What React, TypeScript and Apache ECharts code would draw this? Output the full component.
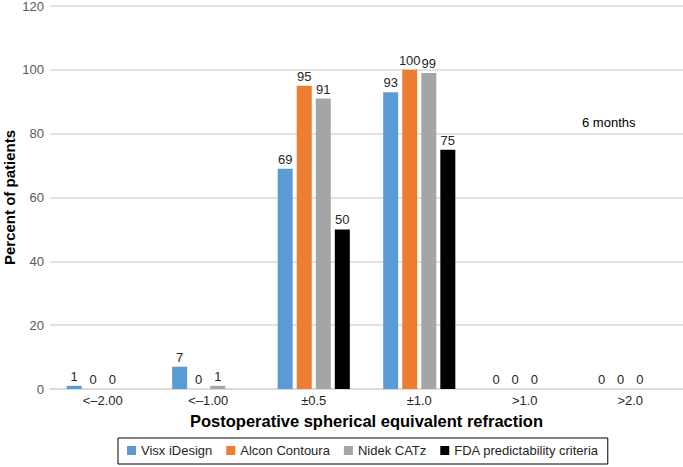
import React, { useEffect, useRef } from "react";
import * as echarts from "echarts";

const categories = ["<–2.00", "<–1.00", "±0.5", "±1.0", ">1.0", ">2.0"];
const visx = [1, 7, 69, 93, 0, 0];
const alcon = [0, 0, 95, 100, 0, 0];
const nidek = [0, 1, 91, 99, 0, 0];
const fda = [null, null, 50, 75, null, null];
const seriesNames = ["Visx iDesign", "Alcon Contoura", "Nidek CATz", "FDA predictability criteria"];
const seriesColors = ["#5B9BD5", "#ED7D31", "#A5A5A5", "#000000"];
const yTicks = { min: 0, max: 120, interval: 20 };

const FONT = "'Liberation Sans', Arial, sans-serif";

export default function App() {
  const ref = useRef<HTMLDivElement>(null);
  useEffect(() => {
    if (!ref.current) return;
    const chart = echarts.init(ref.current, undefined, { renderer: "svg" });
    const datasets = [visx, alcon, nidek, fda];
    chart.setOption({
      animation: false,
      textStyle: { fontFamily: FONT },
      grid: { left: 50, right: 0, top: 6, bottom: 78, outerBoundsMode: "none", containLabel: false },
      legend: {
        data: seriesNames,
        left: 118,
        top: 438,
        padding: [6, 9, 7, 9],
        borderColor: "#000",
        borderWidth: 1,
        itemWidth: 9,
        itemHeight: 9,
        itemGap: 14,
        icon: "rect",
        textStyle: { fontSize: 13, color: "#262626", fontFamily: FONT },
      },
      xAxis: {
        type: "category",
        data: categories,
        name: "Postoperative spherical equivalent refraction",
        nameLocation: "middle",
        nameGap: 23,
        nameMoveOverlap: false,
        nameTextStyle: { fontSize: 16.5, fontWeight: "bold", color: "#000", fontFamily: FONT, verticalAlign: "top" },
        axisLine: { lineStyle: { color: "#D9D9D9", width: 1.5 } },
        axisTick: { show: false },
        axisLabel: { fontSize: 13, color: "#262626", margin: 5, fontFamily: FONT },
      },
      yAxis: {
        type: "value",
        min: yTicks.min,
        max: yTicks.max,
        interval: yTicks.interval,
        name: "Percent of patients",
        nameLocation: "middle",
        nameRotate: 90,
        nameGap: 33,
        nameMoveOverlap: false,
        nameTextStyle: { fontSize: 15, fontWeight: "bold", color: "#000", fontFamily: FONT },
        axisLine: { show: false },
        axisTick: { show: false },
        axisLabel: { fontSize: 13, color: "#595959", margin: 6, fontFamily: FONT },
        splitLine: { lineStyle: { color: "#D9D9D9", width: 1.5 } },
      },
      series: datasets.map((d, i) => ({
        name: seriesNames[i],
        type: "bar",
        data: d,
        barWidth: 15,
        barGap: "27%",
        itemStyle: { color: seriesColors[i] },
        label: {
          show: true,
          position: "top",
          distance: 3,
          fontSize: 13,
          color: "#262626",
          fontFamily: FONT,
        },
      })),
      graphic: [
        {
          type: "text",
          left: 582,
          top: 116,
          style: { text: "6 months", fontSize: 13, fill: "#000", fontFamily: FONT },
        },
      ],
    });
    return () => chart.dispose();
  }, []);
  return (
    <div
      ref={ref}
      style={{ position: "fixed", left: 0, top: 0, width: 683, height: 467, background: "#fff" }}
    />
  );
}
